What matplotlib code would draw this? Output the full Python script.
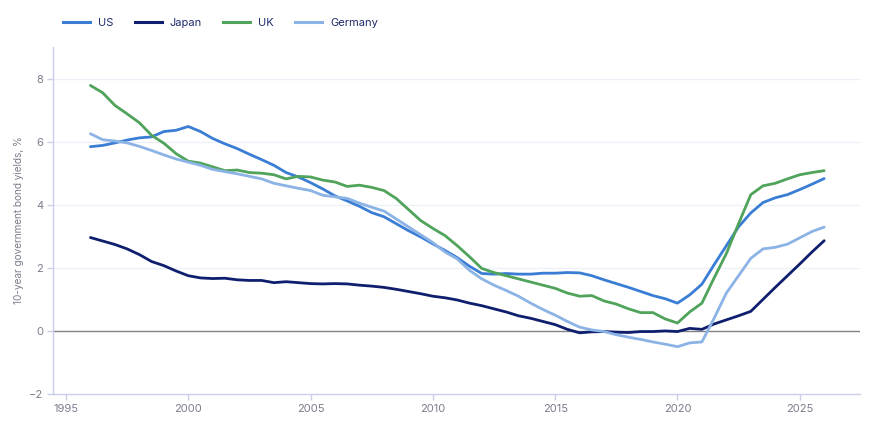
import numpy as np
import matplotlib
matplotlib.use("Agg")
import matplotlib.pyplot as plt
from matplotlib.lines import Line2D

plt.rcParams['font.family'] = ['Inter', 'DejaVu Sans']

years = np.arange(1996.0, 2026.01, 0.5)

us = [5.84, 5.88, 5.96, 6.05, 6.12, 6.15, 6.32, 6.36, 6.48, 6.32,
      6.10, 5.93, 5.78, 5.60, 5.43, 5.25, 5.02, 4.88, 4.70, 4.50,
      4.28, 4.12, 3.95, 3.75, 3.62, 3.40, 3.18, 2.98, 2.76, 2.55,
      2.32, 2.05, 1.82, 1.80, 1.82, 1.80, 1.80, 1.83, 1.83, 1.85,
      1.84, 1.75, 1.62, 1.50, 1.38, 1.25, 1.12, 1.02, 0.88, 1.14,
      1.48, 2.10, 2.70, 3.30, 3.74, 4.07, 4.22, 4.32, 4.48, 4.65, 4.83]

japan = [2.96, 2.85, 2.74, 2.60, 2.42, 2.20, 2.07, 1.90, 1.75, 1.68,
         1.66, 1.67, 1.62, 1.60, 1.60, 1.53, 1.56, 1.53, 1.50, 1.49,
         1.50, 1.49, 1.45, 1.42, 1.38, 1.32, 1.25, 1.18, 1.10, 1.05,
         0.98, 0.88, 0.80, 0.70, 0.60, 0.48, 0.40, 0.30, 0.20, 0.05,
         -0.06, -0.03, -0.02, -0.04, -0.05, -0.02, -0.02, 0.00, -0.02, 0.08,
         0.05, 0.22, 0.35, 0.48, 0.62, 1.00, 1.38, 1.75, 2.12, 2.50, 2.86]

uk = [7.78, 7.55, 7.15, 6.88, 6.60, 6.20, 5.95, 5.62, 5.38, 5.32,
      5.20, 5.08, 5.10, 5.02, 5.00, 4.95, 4.82, 4.90, 4.88, 4.78,
      4.72, 4.58, 4.62, 4.55, 4.45, 4.20, 3.85, 3.50, 3.25, 3.02,
      2.70, 2.35, 1.98, 1.85, 1.75, 1.65, 1.55, 1.45, 1.35, 1.20,
      1.10, 1.12, 0.95, 0.85, 0.70, 0.58, 0.58, 0.38, 0.25, 0.60,
      0.88, 1.68, 2.45, 3.40, 4.32, 4.60, 4.68, 4.82, 4.95, 5.02, 5.08]

germany = [6.25, 6.06, 6.02, 5.96, 5.85, 5.72, 5.58, 5.45, 5.35, 5.25,
           5.12, 5.05, 4.98, 4.90, 4.82, 4.68, 4.60, 4.52, 4.45, 4.30,
           4.25, 4.20, 4.05, 3.92, 3.80, 3.55, 3.30, 3.05, 2.80, 2.50,
           2.28, 1.92, 1.65, 1.45, 1.28, 1.10, 0.88, 0.68, 0.50, 0.30,
           0.12, 0.03, -0.02, -0.12, -0.20, -0.27, -0.35, -0.42, -0.50, -0.38,
           -0.35, 0.40, 1.20, 1.75, 2.30, 2.60, 2.65, 2.75, 2.95, 3.15, 3.29]

series_names = ["US", "Japan", "UK", "Germany"]
colors = ["#3a7dd4", "#0f1f6e", "#4fa35a", "#8cb3e6"]
xticks = [1995, 2000, 2005, 2010, 2015, 2020, 2025]
yticks = [-2, 0, 2, 4, 6, 8]

fig = plt.figure(figsize=(8.75, 4.30), dpi=100)
ax = fig.add_axes([0.0606, 0.0837, 0.9224, 0.807])

ax.set_xlim(1994.47, 2027.47)
ax.set_ylim(-2, 9)

for v in [2, 4, 6, 8]:
    ax.axhline(v, color="#eef0f7", lw=1.0, zorder=0)
ax.axhline(0, color="#808089", lw=1.0, zorder=1)

for name, vals, c in zip(series_names, [us, japan, uk, germany], colors):
    ax.plot(years, vals, color=c, lw=2.0, label=name, zorder=3,
            solid_capstyle="round", solid_joinstyle="round")

ax.set_xticks(xticks)
ax.set_yticks(yticks)
ax.set_yticklabels([str(t).replace("-", "\u2212") if t < 0 else str(t) for t in yticks])
for s in ["top", "right"]:
    ax.spines[s].set_visible(False)
for s in ["left", "bottom"]:
    ax.spines[s].set_color("#c9cfe6")
    ax.spines[s].set_linewidth(1.0)
ax.tick_params(axis="both", colors="#c9cfe6", labelcolor="#7a7d8c", labelsize=8.0,
               length=4, width=1.0, pad=3)
ax.set_ylabel("10-year government bond yields, %", color="#7a7d8c", fontsize=7.2, labelpad=4)

handles = [Line2D([0], [0], color=c, lw=2.2) for c in colors]
leg = fig.legend(handles, series_names, loc="upper left", bbox_to_anchor=(0.061, 0.982),
                 ncol=4, frameon=False, fontsize=8.0, handlelength=2.4,
                 columnspacing=1.9, handletextpad=0.75, labelcolor="#1d2a6b")

fig.savefig("out.png", dpi=100)
